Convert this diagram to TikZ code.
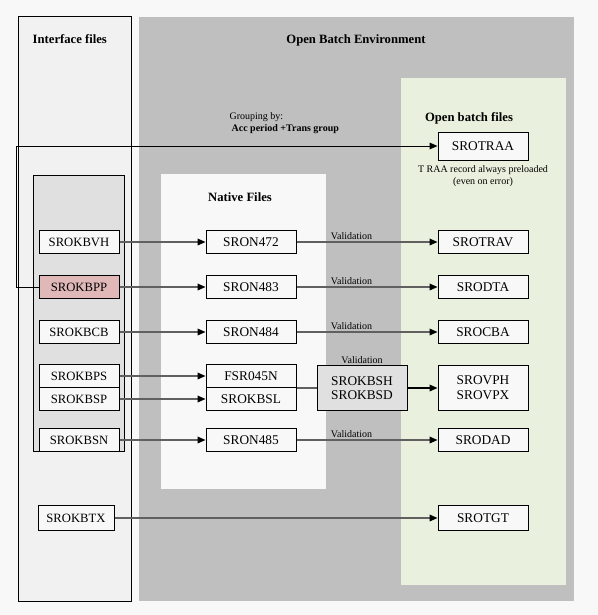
\documentclass[tikz,border=0pt]{standalone}
\usepackage{fontspec}
\setmainfont{Liberation Serif}
\usetikzlibrary{arrows.meta}
\definecolor{pagebg}{HTML}{F9F8F9}
\definecolor{envgray}{HTML}{BFBFBF}
\definecolor{batchgreen}{HTML}{E9F0DD}
\definecolor{ifacegray}{HTML}{E0E0E0}
\definecolor{ifacedots}{HTML}{F2F1F2}
\definecolor{keypink}{HTML}{E0B8B8}
\definecolor{flowgray}{HTML}{606060}

\begin{document}
\begin{tikzpicture}[x=0.75pt, y=-0.75pt,
    file/.style={draw, line width=0.75pt, fill=pagebg, minimum width=67.5pt, minimum height=17.25pt,
                 inner sep=0pt, font=\fontsize{10}{11}\selectfont},
    ifile/.style={file, minimum width=60pt, font=\fontsize{9.5}{11}\selectfont},
    dfile/.style={file, minimum height=33.75pt, align=center},
    title/.style={font=\bfseries\fontsize{9.5}{11}\selectfont},
    note/.style={font=\fontsize{7.5}{9}\selectfont, inner sep=1pt},
    flow/.style={draw=flowgray, line width=1pt, -{Triangle[color=black, length=6pt, width=5pt]}}]
    \useasboundingbox (0,0) rectangle (598,615);
    \fill[pagebg] (0,0) rectangle (598,615);

    % Panels
    \filldraw[fill=ifacedots, line width=0.75pt] (18,16) rectangle (131,601);
    \filldraw[fill=ifacegray, line width=0.75pt] (33,175) rectangle (124,451);
    \fill[envgray] (139,17) rectangle (574,601);
    \fill[batchgreen] (401,78) rectangle (566,585);
    \fill[pagebg] (161,174) rectangle (326,489);

    % Titles
    \node[title, anchor=west] (ifacetitle) at (28,39) {Interface files};
    \node[title] (envtitle) at (356,40) {Open Batch Environment};
    \node[title] (nativetitle) at (240,197) {Native Files};
    \node[title] (batchtitle) at (469,118) {Open batch files};
    \node[note, anchor=west] (grouping) at (228,117) {Grouping by:};
    \node[note, anchor=west, font=\bfseries\fontsize{7.5}{9}\selectfont] (groupkey) at (230,129) {Acc period +Trans group};

    % Interface files
    \node[ifile] (kbvh) at (79,242) {SROKBVH};
    \node[ifile, fill=keypink] (kbpp) at (79,287) {SROKBPP};
    \node[ifile] (kbcb) at (79,332) {SROKBCB};
    \node[ifile] (kbps) at (79,376) {SROKBPS};
    \node[ifile] (kbsp) at (79,399) {SROKBSP};
    \node[ifile] (kbsn) at (79,440) {SROKBSN};
    \node[ifile, minimum width=57pt, minimum height=18.75pt] (kbtx) at (76,518) {SROKBTX};

    % Native files
    \node[file] (n472) at (251,242) {SRON472};
    \node[file] (n483) at (251,287) {SRON483};
    \node[file] (n484) at (251,332) {SRON484};
    \node[file] (f045) at (251,376) {FSR045N};
    \node[file] (kbsl) at (251,399) {SROKBSL};
    \node[file] (n485) at (251,440) {SRON485};
    \node[dfile, fill=ifacegray] (kbsh) at (362,388) {SROKBSH\\SROKBSD};

    % Open batch files
    \node[file, minimum height=21pt] (traa) at (483,146) {SROTRAA};
    \node[note, align=center] (traanote) at (483,176) {T RAA record always preloaded\\(even on error)};
    \node[file] (trav) at (483,242) {SROTRAV};
    \node[file] (dta) at (483,287) {SRODTA};
    \node[file] (cba) at (483,332) {SROCBA};
    \node[dfile] (vph) at (483,388) {SROVPH\\SROVPX};
    \node[file] (dad) at (483,440) {SRODAD};
    \node[file, minimum height=18.75pt] (tgt) at (483,518) {SROTGT};

    % Interface to native
    \draw[flow] (kbvh) -- (n472);
    \draw[flow] (kbpp) -- (n483);
    \draw[flow] (kbcb) -- (n484);
    \draw[flow] (kbps) -- (f045);
    \draw[flow] (kbsp) -- (kbsl);
    \draw[flow] (kbsn) -- (n485);
    \draw[flow] (kbtx) -- (tgt);

    % Validation
    \draw[flow] (n472) -- (trav) node[note, pos=0.39, above] {Validation};
    \draw[flow] (n483) -- (dta) node[note, pos=0.39, above] {Validation};
    \draw[flow] (n484) -- (cba) node[note, pos=0.39, above] {Validation};
    \draw[flow] (n485) -- (dad) node[note, pos=0.39, above] {Validation};
    \draw[draw=flowgray, line width=1pt] (f045.south east) -- (kbsh.west);
    \node[note, above] (kbshval) at (kbsh.north) {Validation};
    \draw[flow, draw=black] (kbsh) -- (vph);

    % Grouping
    \coordinate (groupcorner) at (16,146);
    \draw[flow, draw=black, line width=0.75pt] (kbpp.west) -| (groupcorner) -- (traa.west);
\end{tikzpicture}
\end{document}
